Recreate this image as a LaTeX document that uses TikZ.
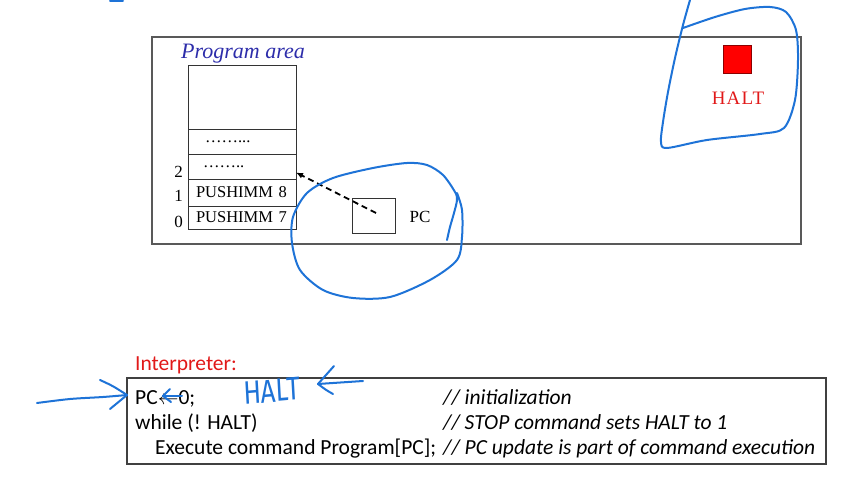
\documentclass[tikz,border=0pt]{standalone}
\usepackage{fontspec}
\setmainfont{Liberation Serif}
\newfontfamily\calibfont{Carlito}
\newfontfamily\haltfont[LetterSpace=6]{Liberation Serif}
\newfontfamily\handfont{Fira Sans}
\usetikzlibrary{positioning, arrows.meta}
\definecolor{penblue}{RGB}{30,115,215}
\definecolor{areablue}{RGB}{45,45,170}
\definecolor{haltred}{RGB}{225,25,25}
\tikzset{
	frame/.style={
		draw=black!65,
		line width=1.3pt,
		inner sep=0pt,
	},
	cell/.style={
		draw=black!80,
		line width=0.8pt,
		minimum width=108pt,
		text width=92pt,
		inner xsep=8pt,
		inner ysep=0pt,
		outer sep=0pt,
		align=left,
		font=\fontsize{16.5}{16.5}\selectfont
	},
	addr/.style={
		anchor=base east,
		inner sep=0pt,
		font=\fontsize{17}{17}\selectfont
	},
	code/.style={
		anchor=base west,
		inner sep=0pt,
		font=\calibfont\fontsize{21.5}{25}\selectfont
	},
	comment/.style={
		code,
		font=\calibfont\itshape\fontsize{21.5}{25}\selectfont
	},
	pointer/.style={
		line width=1.8pt,
		dash pattern=on 6pt off 4pt,
		-{Latex[length=7pt, width=6pt]}
	},
	pen/.style={
		draw=penblue,
		line width=2pt,
		line cap=round,
		line join=round
	},
}

\begin{document}
\begin{tikzpicture}[x=1pt, y=-1pt, node distance=0pt]
\useasboundingbox (0,0) rectangle (849,481);

% program area
\node(mem)[frame, minimum width=649pt, minimum height=207pt] at (476.5,140.5){};
\node(area)[text=areablue, font=\itshape\fontsize{22}{22}\selectfont] at (243,54){Program area};

\node(ctop)[cell, minimum height=64pt] at (242,97){};
\node(cdots)[cell, minimum height=25pt, below=of ctop]{\hspace{9pt}……...};
\node(c2)[cell, minimum height=25pt, below=of cdots]{\hspace{7pt}……..};
\node(c1)[cell, minimum height=27pt, below=of c2]{PUSHIMM 8};
\node(c0)[cell, minimum height=23pt, below=of c1]{PUSHIMM 7};

\node(a2)[addr] at ([xshift=-5pt, yshift=1pt]c2.south west){2};
\node(a1)[addr] at ([xshift=-5pt, yshift=4pt]c1.south west){1};
\node(a0)[addr] at ([xshift=-5pt, yshift=1pt]c0.south west){0};

\node(pc)[draw=black!80, line width=0.8pt, minimum width=43pt, minimum height=35pt, outer sep=0pt] at (373.5,215.5){};
\node(pclabel)[font=\fontsize{17}{17}\selectfont] at (420,217){PC};
\coordinate(pcin) at (376,213);
\draw[pointer] (pcin) -- ([yshift=-6pt]c2.east);

\node(haltbox)[fill=red, draw=red!55!black, line width=0.6pt, minimum size=28pt, inner sep=0pt] at (737,59){};
\node(halt)[text=haltred, font=\haltfont\fontsize{19}{19}\selectfont] at (738,98){HALT};

% interpreter
\node(interp)[code, text=haltred] at (135,370){Interpreter:};
\node(prog)[frame, draw=black!75, line width=1.2pt, minimum width=699pt, minimum height=86pt] at (476.5,421){};

\node(l1)[code] at (135,404){PC$\leftarrow$0;};
\node(l2)[code] at (135,429){while (! HALT)};
\node(l3)[code] at (155,454){Execute command Program[PC];};
\node(k1)[comment] at (443,404){// initialization};
\node(k2)[comment] at (443,429){// STOP command sets HALT to 1};
\node(k3)[comment] at (443,454){// PC update is part of command execution};

% pen marks
\draw[pen] (110,1) -- (123,1);
\draw[pen] plot[smooth] coordinates {(690,0) (683,25) (675,58) (668,92) (663,122) (661,142) (667,148) (707,140) (760,134) (784,128) (795,100) (798,60) (796,30) (786,12) (770,7) (745,9) (715,17) (683,28)};
\draw[pen] plot[smooth] coordinates {(447,240) (450,227) (454,213) (457,200) (455,192) (443,175) (427,165) (407,163) (373,168) (333,178) (307,193) (293,217) (292,243) (300,270) (323,290) (353,298) (390,297) (430,280) (457,260) (462,237) (462,210) (457,193)};

\coordinate(pctip) at (127,395);
\draw[pen] plot[smooth] coordinates {(37,403) (70,399) (103,397) (pctip)};
\draw[pen] (100,380) .. controls (113,386) .. (pctip) .. controls (118,402) .. (110,409);

\draw[pen] (182,396) -- (163,396);
\draw[pen] (170,389) -- (163,396) -- (171,402);

\node(hhalt)[text=penblue, inner sep=0pt, font=\handfont\fontsize{26}{26}\selectfont, yscale=1.25, rotate=4, transform shape] at (272,391){HALT};
\draw[pen] (363,381) -- (318,384);
\draw[pen] (334,366) .. controls (326,375) .. (318,384) .. controls (326,390) .. (333,394);

\end{tikzpicture}
\end{document}
